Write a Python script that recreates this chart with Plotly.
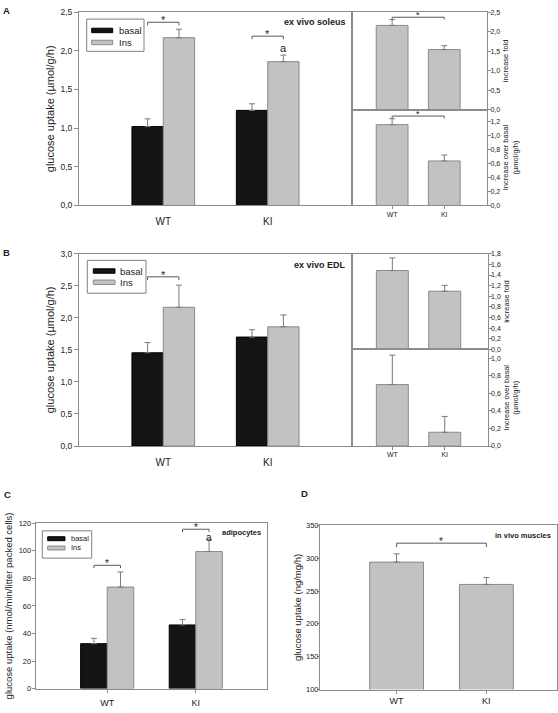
import plotly.graph_objects as go

W, H = 558, 713
FONT = "Arial, 'Liberation Sans', sans-serif"
BLACK = "#141414"
GRAY = "#c2c2c2"
EDGE = "#8a8a8a"
AXC = "#8c8c8c"
ERR = "#7a7a7a"
TXT = "#222222"

# ---------------- data ----------------
groups = ["WT", "KI"]
pos = list(range(len(groups)))
series_names = ["basal", "Ins"]

# Panel A - ex vivo soleus
A_basal = [1.02, 1.23]
A_basal_err = [0.10, 0.085]
A_ins = [2.17, 1.86]
A_ins_err = [0.11, 0.085]
A_fold = [2.16, 1.54]
A_fold_err = [0.15, 0.10]
A_over = [1.157, 0.637]
A_over_err = [0.085, 0.085]
A_sig_y = [2.37, 2.19]          # basal vs Ins brackets (WT, KI)
A_note = ["", "a"]
A_note_y = [None, 2.04]
A_fold_sig_y = 2.37
A_over_sig_y = 1.28

# Panel B - ex vivo EDL
B_basal = [1.455, 1.70]
B_basal_err = [0.16, 0.115]
B_ins = [2.165, 1.86]
B_ins_err = [0.345, 0.185]
B_fold = [1.485, 1.095]
B_fold_err = [0.235, 0.11]
B_over = [0.70, 0.157]
B_over_err = [0.335, 0.18]
B_sig_y = [2.64, None]

# Panel C - adipocytes
C_basal = [32.6, 46.2]
C_basal_err = [3.9, 3.9]
C_ins = [73.7, 99.5]
C_ins_err = [11.0, 9.0]
C_sig_y = [89.5, 115.7]
C_note = ["", "a"]
C_note_y = [None, 109.6]

# Panel D - in vivo muscles
D_vals = [294, 260]
D_err = [12.5, 10.5]
D_sig_y = 322.8

fig = go.Figure()


def dom_x(a, b):
    return [a / W, b / W]


def dom_y(top, bottom):
    return [1 - bottom / H, 1 - top / H]


def refs(n):
    return (f"x{n}", f"y{n}") if n > 1 else ("x", "y")


def err(vals):
    return dict(type="data", array=vals, arrayminus=[0] * len(vals), symmetric=False,
                color=ERR, thickness=1, width=3)


def grouped(n, basal, basal_err, ins, ins_err):
    xa, ya = refs(n)
    fig.add_trace(go.Bar(x=pos, y=basal, width=0.3, offset=-0.3, name=series_names[0],
                         marker=dict(color=BLACK, line=dict(color="#000000", width=1)),
                         error_y=err(basal_err), xaxis=xa, yaxis=ya, showlegend=False))
    fig.add_trace(go.Bar(x=pos, y=ins, width=0.3, offset=0.0, name=series_names[1],
                         marker=dict(color=GRAY, line=dict(color=EDGE, width=1)),
                         error_y=err(ins_err), xaxis=xa, yaxis=ya, showlegend=False))


def single(n, vals, errs, width):
    xa, ya = refs(n)
    fig.add_trace(go.Bar(x=pos, y=vals, width=width, name="",
                         marker=dict(color=GRAY, line=dict(color=EDGE, width=1)),
                         error_y=err(errs), xaxis=xa, yaxis=ya, showlegend=False))


def bracket(n, x0, x1, y, drop, size=11):
    xa, ya = refs(n)
    fig.add_trace(go.Scatter(x=[x0, x0, x1, x1], y=[y - drop, y, y, y - drop], mode="lines",
                             line=dict(color="#5a5a5a", width=1), xaxis=xa, yaxis=ya,
                             showlegend=False, hoverinfo="skip"))
    fig.add_annotation(x=(x0 + x1) / 2, y=y, xref=xa, yref=ya, text="*", showarrow=False,
                       font=dict(size=size, color=TXT), yanchor="middle", yshift=2)


def note(n, x, y, text, size=11):
    xa, ya = refs(n)
    fig.add_annotation(x=x, y=y, xref=xa, yref=ya, text=text, showarrow=False,
                       font=dict(size=size, color=TXT), yanchor="middle")


def legend_box(box, rows, fsize):
    """box = (left, top, right, bottom) px; rows = list of (swatch_x0, swatch_x1, y_center, h, text_x)"""
    l, t, r, b = box
    fig.add_shape(type="rect", xref="paper", yref="paper", x0=l / W, x1=r / W,
                  y0=1 - b / H, y1=1 - t / H, line=dict(color="#808080", width=1),
                  fillcolor="white", layer="above")
    colors = [(BLACK, "#000000"), (GRAY, EDGE)]
    for (sx0, sx1, yc, h, tx), name, (fc, lc) in zip(rows, series_names, colors):
        fig.add_shape(type="rect", xref="paper", yref="paper", x0=sx0 / W, x1=sx1 / W,
                      y0=1 - (yc + h / 2) / H, y1=1 - (yc - h / 2) / H,
                      line=dict(color=lc, width=1), fillcolor=fc, layer="above")
        fig.add_annotation(text=name, xref="paper", yref="paper", x=tx / W, y=1 - yc / H,
                           xanchor="left", yanchor="middle", showarrow=False,
                           font=dict(family=FONT, size=fsize, color=TXT))


# ---------- Panel A ----------
grouped(1, A_basal, A_basal_err, A_ins, A_ins_err)
single(2, A_fold, A_fold_err, 0.61)
single(3, A_over, A_over_err, 0.61)
for i, y in enumerate(A_sig_y):
    if y is not None:
        bracket(1, pos[i] - 0.15, pos[i] + 0.15, y, 0.04)
for i, t in enumerate(A_note):
    if t:
        note(1, pos[i] + 0.15, A_note_y[i], t)
bracket(2, pos[0], pos[1], A_fold_sig_y, 0.06, 9)
bracket(3, pos[0], pos[1], A_over_sig_y, 0.035, 9)
legend_box((86.7, 14.3, 144, 47), [(91.7, 112.7, 25.8, 4.5, 116.5), (91.7, 112.7, 38, 4.5, 116.5)], 9.5)

# ---------- Panel B ----------
grouped(4, B_basal, B_basal_err, B_ins, B_ins_err)
single(5, B_fold, B_fold_err, 0.61)
single(6, B_over, B_over_err, 0.61)
for i, y in enumerate(B_sig_y):
    if y is not None:
        bracket(4, pos[i] - 0.15, pos[i] + 0.15, y, 0.05)
legend_box((87.3, 259, 146, 292.3), [(93.3, 115, 269.8, 4.5, 117.5), (93.3, 115, 281.2, 4.5, 117.5)], 9.5)

# ---------- Panel C ----------
grouped(7, C_basal, C_basal_err, C_ins, C_ins_err)
for i, y in enumerate(C_sig_y):
    if y is not None:
        bracket(7, pos[i] - 0.15, pos[i] + 0.15, y, 2.0, 10)
for i, t in enumerate(C_note):
    if t:
        note(7, pos[i] + 0.15, C_note_y[i], t, 10)
legend_box((42.3, 533.3, 91.7, 561), [(47.7, 65, 541.3, 4, 69), (47.7, 65, 550.7, 4, 69)], 7.5)

# ---------- Panel D ----------
single(8, D_vals, D_err, 0.6)
bracket(8, pos[0], pos[1], D_sig_y, 6, 10)

# ---------- axes ----------
base = dict(showgrid=False, zeroline=False, showline=True, linecolor=AXC, linewidth=1,
            tickcolor=AXC)


def xax(domain, rng, anchor, labels=True, fsize=10, ticklen=0, standoff=0):
    d = dict(base, domain=domain, range=rng, anchor=anchor, tickmode="array",
             tickvals=pos, ticktext=groups, mirror=True, showticklabels=labels,
             ticks="outside" if ticklen else "", ticklen=ticklen, ticklabelstandoff=standoff,
             tickfont=dict(family=FONT, color=TXT, size=fsize))
    return d


def yax(domain, rng, dtick, anchor, title, tsize, fsize, side="left", fmt=".1f",
        standoff=6, ticklen=4, lstand=0):
    d = dict(base, domain=domain, range=rng, dtick=dtick, tick0=0, anchor=anchor, side=side,
             ticks="outside", ticklen=ticklen, mirror=True, tickformat=fmt,
             ticklabelstandoff=lstand,
             tickfont=dict(family=FONT, color=TXT, size=fsize),
             title=dict(text=title, font=dict(family=FONT, size=tsize, color=TXT),
                        standoff=standoff))
    return d


INSET_X = [-0.77, 1.82]
MAIN_X = [-0.807, 1.807]
UNIT = "glucose uptake (µmol/g/h)"

layout = dict(
    width=W, height=H, margin=dict(l=0, r=0, t=0, b=0),
    paper_bgcolor="white", plot_bgcolor="white", barmode="overlay",
    separators=", ", font=dict(family=FONT, color=TXT), showlegend=False,
    xaxis=xax(dom_x(79, 352), MAIN_X, "y", fsize=10, standoff=7),
    yaxis=yax(dom_y(7.3, 203.3), [0, 2.5], 0.5, "x", UNIT, 11, 8.5, standoff=3),
    xaxis2=xax(dom_x(352, 487), INSET_X, "y2", labels=False),
    yaxis2=yax(dom_y(7.3, 106), [0, 2.5], 0.5, "x2", "increase fold", 7.5, 7,
               side="right", standoff=3, ticklen=3, lstand=-2),
    xaxis3=xax(dom_x(352, 487), INSET_X, "y3", fsize=7, ticklen=3, standoff=-1),
    yaxis3=yax(dom_y(106, 203.3), [0, 1.374], 0.2, "x3",
               "Increase over basal<br>(µmol/g/h)", 7.5, 7, side="right", standoff=3, ticklen=3,
               lstand=-2),
    xaxis4=xax(dom_x(79, 352), MAIN_X, "y4", fsize=10, standoff=7),
    yaxis4=yax(dom_y(252.3, 447.3), [0, 3.0], 0.5, "x4", UNIT, 11, 8.5, standoff=3),
    xaxis5=xax(dom_x(352, 487.7), INSET_X, "y5", labels=False),
    yaxis5=yax(dom_y(252.3, 349.3), [0, 1.8], 0.2, "x5", "increase fold", 7.5, 7,
               side="right", standoff=3, ticklen=3, lstand=-2),
    xaxis6=xax(dom_x(352, 487.7), INSET_X, "y6", fsize=7, ticklen=3, standoff=-1),
    yaxis6=yax(dom_y(349.3, 447.3), [0, 1.101], 0.2, "x6",
               "Increase over basal<br>(µmol/g/h)", 7.5, 7, side="right", standoff=3, ticklen=3,
               lstand=-2),
    xaxis7=xax(dom_x(35.7, 267.3), MAIN_X, "y7", fsize=9, ticklen=3, standoff=3),
    yaxis7=yax(dom_y(525.7, 693.3), [0, 120], 20, "x7",
               "glucose uptake (nmol/min/litter packed cells)", 9.5, 7.5, fmt="d", standoff=4,
               ticklen=3, lstand=-1),
    xaxis8=xax(dom_x(320, 557.3), [-0.853, 1.79], "y8", fsize=9, ticklen=3, standoff=0),
    yaxis8=yax(dom_y(527.7, 694.3), [100, 350], 50, "x8",
               "glucose uptake (ng/mg/h)", 9.5, 7.5, fmt="d", standoff=2, ticklen=2, lstand=-3),
)
fig.update_layout(**layout)

# panel titles / labels (right edge and centre in px)
titles = [("ex vivo soleus", 348, 17.3, 9),
          ("ex vivo EDL", 347.7, 264, 9),
          ("adipocytes", 262.7, 535.5, 7.5),
          ("in vivo muscles", 553.3, 538.5, 7.5)]
for text, rx, cy, s in titles:
    fig.add_annotation(text=f"<b>{text}</b>", xref="paper", yref="paper",
                       x=rx / W, y=1 - cy / H, xanchor="right", yanchor="middle", showarrow=False,
                       font=dict(family=FONT, size=s, color=TXT))

for lab, px, py in [("A", 6, 6), ("B", 6.5, 251.5), ("C", 7, 496), ("D", 304, 495.5)]:
    fig.add_annotation(text=f"<b>{lab}</b>", xref="paper", yref="paper", x=px / W, y=1 - py / H,
                       xanchor="center", yanchor="middle", showarrow=False,
                       font=dict(family=FONT, size=9.5, color=TXT))

# the page's default 8px body margin would shift the whole figure; remove it
fig.write_html("out.html", config={"displayModeBar": False},
               post_script="document.body.style.margin='0px';")
